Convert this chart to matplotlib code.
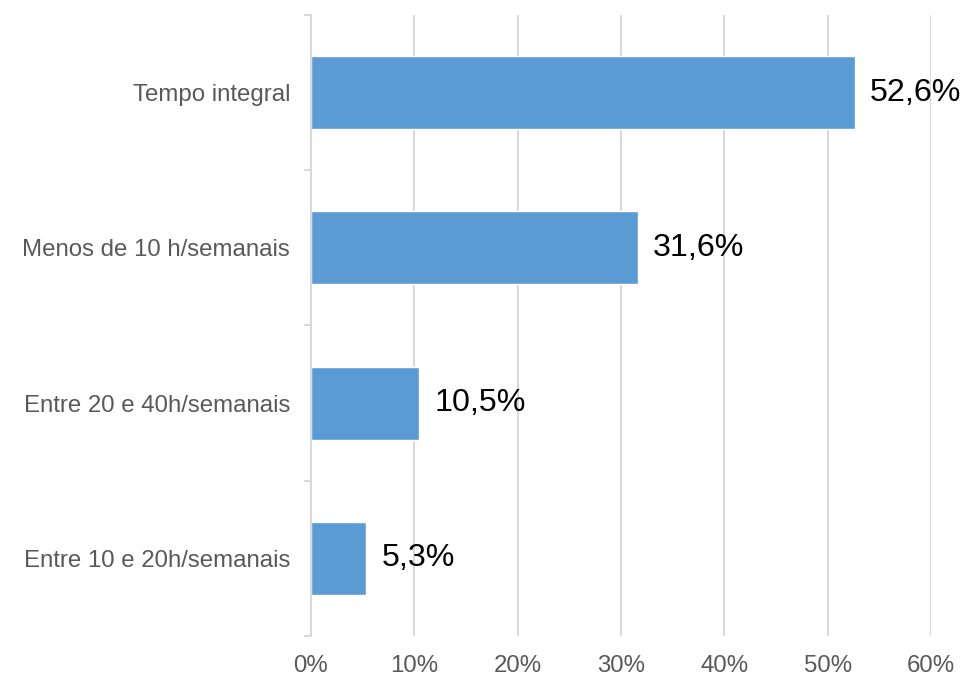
import numpy as np
import matplotlib.pyplot as plt
from matplotlib.ticker import FixedLocator, PercentFormatter

plt.rcParams['font.family'] = ['Liberation Sans', 'DejaVu Sans']

categorias = ["Tempo integral", "Menos de 10 h/semanais",
              "Entre 20 e 40h/semanais", "Entre 10 e 20h/semanais"]
valores = [52.6, 31.6, 10.5, 5.3]
rotulos = ["52,6%", "31,6%", "10,5%", "5,3%"]

fig = plt.figure(figsize=(9.64, 6.77), dpi=100)
ax = fig.add_axes([0.3226, 0.0606, 0.6432, 0.9174])

y = np.arange(len(categorias))
ax.barh(y, valores, height=0.47, color="#5B9BD5", edgecolor="white",
        linewidth=1.0, zorder=3)

for yi, v, r in zip(y, valores, rotulos):
    ax.text(v + 1.5, yi, r, va="center", ha="left", fontsize=23.2,
            color="black", zorder=4)

ax.set_xlim(0, 60)
ax.set_ylim(len(categorias) - 0.5, -0.5)
ax.set_xticks(range(0, 61, 10))
ax.xaxis.set_major_formatter(PercentFormatter(decimals=0))
ax.set_yticks(y)
ax.set_yticklabels(categorias)
ax.yaxis.set_minor_locator(FixedLocator(np.arange(-0.5, len(categorias), 1)))

ax.tick_params(axis="y", which="major", length=0, pad=15,
               labelsize=17.3, labelcolor="#595959")
ax.tick_params(axis="y", which="minor", length=5, width=1.5,
               color="#D9D9D9")
ax.tick_params(axis="x", length=0, pad=14, labelsize=17.3,
               labelcolor="#595959")

ax.grid(axis="x", color="#D9D9D9", linewidth=1.5, zorder=0)
ax.set_axisbelow(True)
for s in ["top", "right", "bottom"]:
    ax.spines[s].set_visible(False)
ax.spines["left"].set_color("#D9D9D9")
ax.spines["left"].set_linewidth(1.5)
ax.spines["left"].set_zorder(5)

fig.savefig("out.png", dpi=100)
